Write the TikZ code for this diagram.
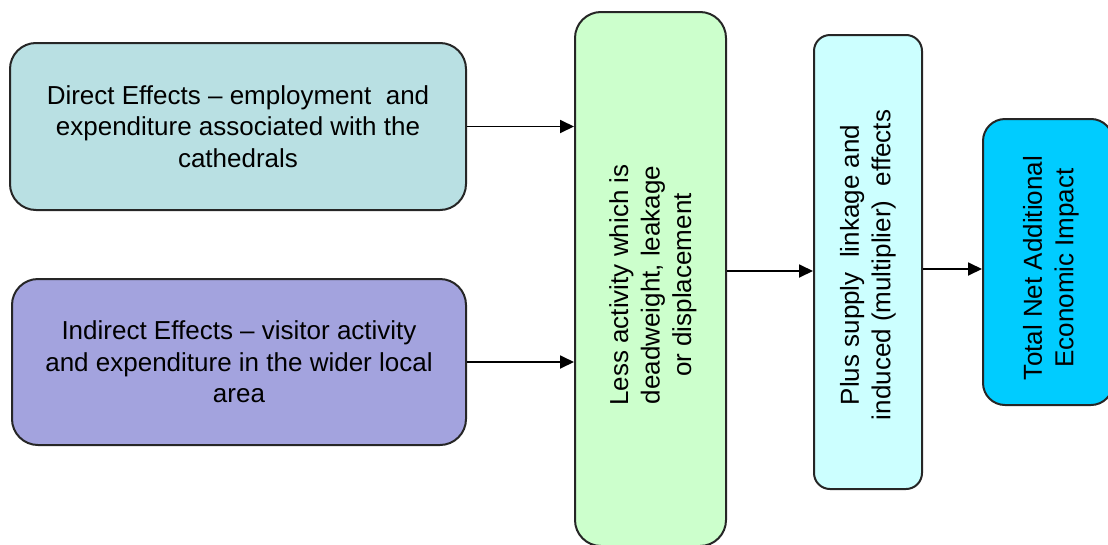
\documentclass[tikz,border=0pt]{standalone}
\usepackage{fontspec}
\setmainfont{Liberation Sans}
\usetikzlibrary{arrows.meta}
\definecolor{directc}{HTML}{B9E0E3}
\definecolor{indirectc}{HTML}{A3A3DE}
\definecolor{greenc}{HTML}{CCFFCC}
\definecolor{cyanc}{HTML}{CCFFFF}
\definecolor{bluec}{HTML}{00CCFF}
\tikzset{
  box/.style={draw=black!85, line width=2pt, inner sep=0pt},
  txt/.style={align=center, font=\fontsize{26}{31.5}\selectfont, inner sep=0pt},
  conn/.style={line width=1.8pt, -{Triangle[length=14pt,width=13pt]}}
}
\begin{document}
\begin{tikzpicture}[x=1pt,y=-1pt]
\useasboundingbox (0,0) rectangle (1108,544);
\clip (0,0) rectangle (1108,544);
\node[box, fill=directc, rounded corners=26pt, minimum width=456pt, minimum height=167pt] (direct) at (238,126.5) {};
\node[txt] (directt) at (direct.center) {Direct Effects -- employment\ \ and\\expenditure associated with the\\cathedrals};
\node[box, fill=indirectc, rounded corners=26pt, minimum width=454pt, minimum height=166pt] (indirect) at (239,362) {};
\node[txt] (indirectt) at (indirect.center) {Indirect Effects -- visitor activity\\and expenditure in the wider local\\area};
\node[box, fill=greenc, rounded corners=26pt, minimum width=151pt, minimum height=534pt] (green) at (650.5,279) {};
\node[txt, rotate=90] (greent) at (653,285) {Less activity which is\\deadweight, leakage\\or displacement};
\node[box, fill=cyanc, rounded corners=16pt, minimum width=108pt, minimum height=454pt] (cyan) at (868,262) {};
\node[txt, rotate=90] (cyant) at (868,265) {Plus supply\ \ linkage and\\induced (multiplier)\ \ effects};
\node[box, fill=bluec, rounded corners=22pt, minimum width=130pt, minimum height=286pt] (blue) at (1048,262) {};
\node[txt, rotate=90] (bluet) at (1051,268) {Total Net Additional\\Economic Impact};
\coordinate (a1) at (0,271);
\coordinate (a2) at (0,269);
\draw[conn] (direct.east) -- (green.west |- direct.east);
\draw[conn] (indirect.east) -- (green.west |- indirect.east);
\draw[conn] (green.east |- a1) -- (cyan.west |- a1);
\draw[conn] (cyan.east |- a2) -- (blue.west |- a2);
\end{tikzpicture}
\end{document}
